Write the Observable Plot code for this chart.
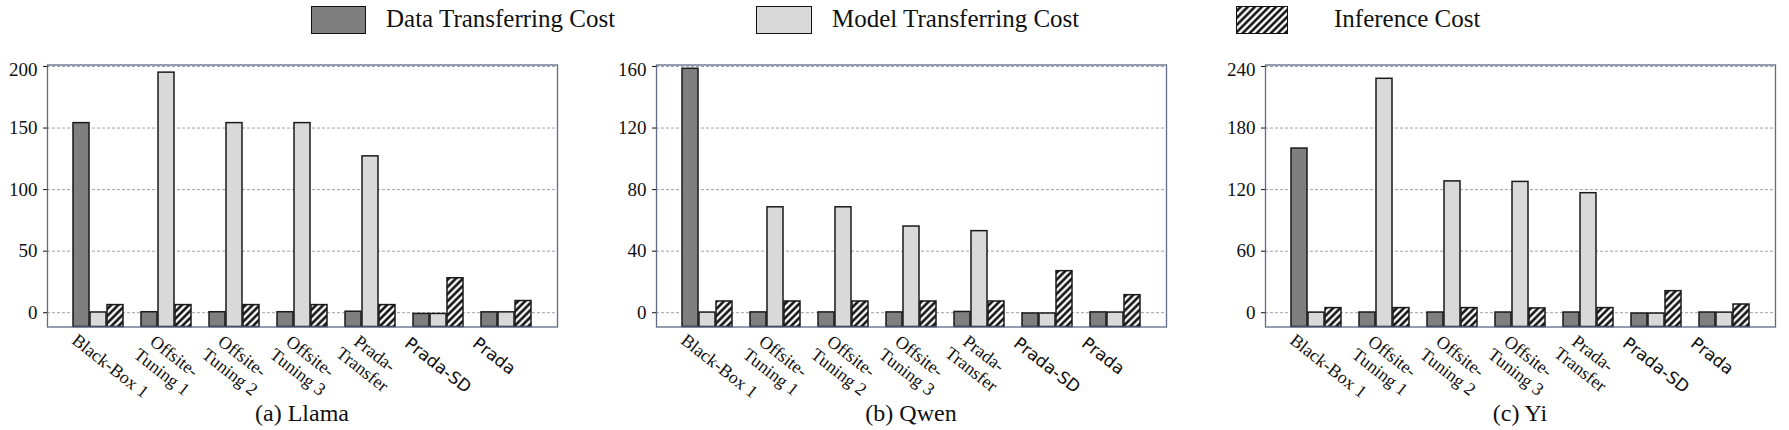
<!DOCTYPE html>
<html><head><meta charset="utf-8">
<script src="https://cdn.jsdelivr.net/npm/d3@7"></script>
<script src="https://cdn.jsdelivr.net/npm/@observablehq/plot@0.6"></script>
<style>
html,body{margin:0;padding:0;background:#fff;}
body{width:1789px;height:430px;overflow:hidden;position:relative;font-family:"Liberation Serif","Times New Roman",serif;color:#111;}
.sw{position:absolute;top:6px;height:28px;box-sizing:border-box;border:1.5px solid #111;}
.lt{position:absolute;top:4px;font-size:25px;line-height:30px;white-space:nowrap;}
.cap{position:absolute;top:400px;font-size:24px;line-height:27px;text-align:center;width:510px;}
.chart{position:absolute;top:45px;}
</style></head>
<body>
<svg width="0" height="0" style="position:absolute">
 <defs><pattern id="hatch" patternUnits="userSpaceOnUse" width="5" height="5" patternTransform="rotate(45)">
  <rect x="-1" y="-1" width="7" height="7" fill="#fff"/><line x1="2.5" y1="-1" x2="2.5" y2="6" stroke="#000" stroke-width="2.4"/></pattern></defs>
</svg>
<div id="legend"></div>
<div id="charts"></div>
<script>
const categories = ["Black-Box 1","Offsite-Tuning 1","Offsite-Tuning 2","Offsite-Tuning 3","Prada-Transfer","Prada-SD","Prada"];
const tickLabels = ["Black-Box 1","Offsite-\nTuning 1","Offsite-\nTuning 2","Offsite-\nTuning 3","Prada-\nTransfer","Prada-SD","Prada"];
const series = ["Data Transferring Cost","Model Transferring Cost","Inference Cost"];
const captions = ["(a) Llama","(b) Qwen","(c) Yi"];

const llamaData = [154, 0.4, 0.4, 0.4, 0.8, -1, 0.3];
const llamaModel = [0.2, 195, 154, 154, 127, -1, 0.3];
const llamaInference = [6.2, 6.2, 6.2, 6.2, 6.2, 28, 9.5];
const llamaTicks = [0, 50, 100, 150, 200];

const qwenData = [158.5, 0.2, 0.2, 0.2, 0.5, -0.5, 0.2];
const qwenModel = [0.1, 68.5, 68.5, 56, 53, -0.5, 0.1];
const qwenInference = [7.3, 7.3, 7.3, 7.3, 7.3, 27, 11.4];
const qwenTicks = [0, 40, 80, 120, 160];

const yiData = [160, 0.2, 0.2, 0.2, 0.2, -0.8, 0.2];
const yiModel = [0.1, 228, 128, 127.5, 116.5, -0.8, 0.1];
const yiInference = [4.5, 4.5, 4.5, 4.2, 4.5, 21, 8];
const yiTicks = [0, 60, 120, 180, 240];

const fills = ["#7f7f7f", "#d9d9d9", "url(#hatch)"];

// legend
const legend = document.getElementById("legend");
const swLeft = [311, 756, 1236], swW = [55, 56, 52], txtLeft = [386, 832, 1334];
series.forEach((s, j) => {
  const sw = document.createElement("div");
  sw.className = "sw";
  sw.style.left = swLeft[j] + "px";
  sw.style.width = swW[j] + "px";
  if (j < 2) sw.style.background = fills[j];
  else sw.innerHTML = `<svg width="100%" height="100%" style="display:block"><rect width="100%" height="100%" fill="url(#hatch)"/></svg>`;
  legend.appendChild(sw);
  const t = document.createElement("div");
  t.className = "lt";
  t.style.left = txtLeft[j] + "px";
  t.textContent = s;
  legend.appendChild(t);
});

const ROT = 38, RAD = ROT * Math.PI / 180;
const SERIF_PX = 18, SANS_PX = 17;
const ctx = document.createElement("canvas").getContext("2d");
ctx.font = `${SERIF_PX}px "Liberation Serif"`;

function chart(vals, ticks) {
  const top = ticks[ticks.length - 1];
  const ymin = -0.058 * top;
  const ymax = 1.006 * top;
  const rows = [];
  categories.forEach((c, i) => series.forEach((s, j) => rows.push({cat: c, series: s, key: c + "|" + j, value: vals[j][i]})));
  const domain = [];
  categories.forEach((c, i) => {
    series.forEach((s, j) => domain.push(c + "|" + j));
    if (i < categories.length - 1) domain.push(c + "|gap");
  });
  const labelOf = new Map(categories.map((c, i) => [c + "|1", tickLabels[i]]));
  const keyOf = i => categories[i] + "|1";
  const idx = d3.range(categories.length);
  const sansKeys = idx.filter(i => i >= 5).map(keyOf);
  const serifOne = idx.filter(i => i < 5 && !tickLabels[i].includes("\n"));
  const serifTwo = idx.filter(i => i < 5 && tickLabels[i].includes("\n"));
  const common = {tickSize: 0, tickRotate: ROT, tickFormat: k => labelOf.get(k), lineAnchor: "top", label: null};
  // two-line labels: lines centred on each other, block start placed like the reference
  const twoLineAxes = serifTwo.map(i => {
    const half = ctx.measureText(tickLabels[i].split("\n")[0]).width / 2;
    return Plot.axisX({...common, ticks: [keyOf(i)], textAnchor: "middle", fontSize: SERIF_PX, lineHeight: 1.12,
      dx: -9 + half * Math.cos(RAD), tickPadding: 5.4 + half * Math.sin(RAD)});
  });
  const lower = ticks.slice(0, -1);
  return Plot.plot({
    width: 571, height: 355, marginLeft: 47, marginRight: 14, marginTop: 19.5, marginBottom: 73.5,
    style: {fontFamily: "Liberation Serif", fontSize: "19px", color: "#111", background: "transparent", overflow: "visible"},
    x: {type: "band", domain, paddingInner: 0.04, paddingOuter: 1.38},
    y: {domain: [ymin, ymax]},
    color: {domain: series, range: fills},
    marks: [
      Plot.gridY({ticks, stroke: "#a0a0a0", strokeOpacity: 1, strokeDasharray: "3,2", strokeWidth: 1}),
      Plot.barY(rows, {x: "key", y1: d => ymin, y2: "value", fill: "series", stroke: "#1a1a1a", strokeWidth: 1.5}),
      Plot.frame({stroke: "#5d6b88", strokeWidth: 1.3}),
      Plot.axisY({ticks: lower, tickSize: 4, tickPadding: 6, fontSize: 19, label: null}),
      Plot.axisY({ticks: [top], tickSize: 4, tickFormat: () => "", label: null}),
      Plot.axisY({ticks: [top], tickSize: 0, tickPadding: 10, dy: 3, fontSize: 19, label: null}),
      Plot.axisX({...common, ticks: serifOne.map(keyOf), textAnchor: "start", dx: -20, tickPadding: 5.4, fontSize: SERIF_PX}),
      ...twoLineAxes,
      Plot.axisX({...common, ticks: sansKeys, textAnchor: "start", dx: -27.5, tickPadding: 9, fontFamily: "DejaVu Sans", fontSize: SANS_PX})
    ]
  });
}

const all = [
  [[llamaData, llamaModel, llamaInference], llamaTicks],
  [[qwenData, qwenModel, qwenInference], qwenTicks],
  [[yiData, yiModel, yiInference], yiTicks]
];
const chartsDiv = document.getElementById("charts");
const lefts = [0, 609, 1218];
all.forEach(([vals, ticks], k) => {
  const el = chart(vals, ticks);
  const wrap = document.createElement("div");
  wrap.className = "chart";
  wrap.style.left = lefts[k] + "px";
  wrap.appendChild(el);
  chartsDiv.appendChild(wrap);
  const cap = document.createElement("div");
  cap.className = "cap";
  cap.style.left = (lefts[k] + 47) + "px";
  cap.textContent = captions[k];
  chartsDiv.appendChild(cap);
});
</script>
</body></html>
